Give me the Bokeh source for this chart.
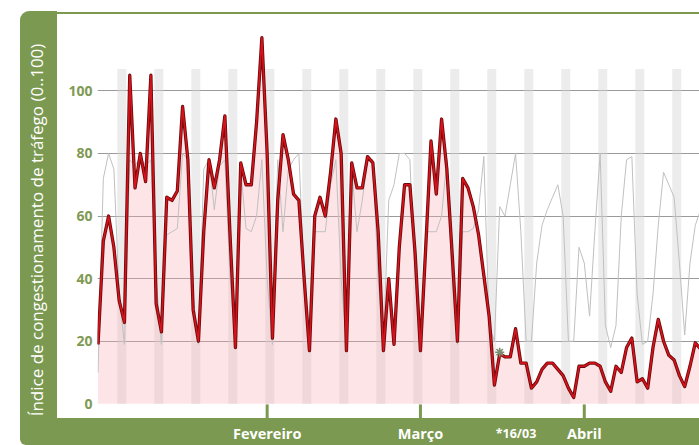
from bokeh.plotting import figure
from bokeh.layouts import row, column
from bokeh.models import FixedTicker, Range1d, ColumnDataSource, Spacer
from bokeh.core.properties import value
from bokeh.embed import file_html
from bokeh.resources import INLINE

# ---- data (day index: days since 2020-01-01, -1 = 2019-12-31) ----
day = list(range(-1, 114))

congestion_2020 = [
    19, 52, 60, 50, 33, 26, 105, 69, 80, 71, 105, 32, 23, 66, 65, 68, 95, 78, 30, 20,
    55, 78, 69, 78, 92, 53, 18, 77, 70, 70, 90, 117, 80, 21, 65, 86, 78, 67, 65, 40,
    17, 60, 66, 60, 74, 91, 80, 17, 77, 69, 69, 79, 77, 55, 17, 40, 19, 50, 70, 70,
    48, 17, 50, 84, 67, 91, 75, 48, 20, 72, 69, 63, 54, 41, 28, 6, 16, 15, 15, 24,
    13, 13, 5, 7, 11, 13, 13, 11, 9, 5, 2, 12, 12, 13, 13, 12, 7, 4, 12, 10,
    18, 21, 7, 8, 5, 18, 27, 20, 15.5, 14, 9, 5.5, 12, 19.5, 17.5,
]

typical_reference = [
    10, 72, 80, 75, 35, 19, 78, 76, 79, 76, 78, 40, 19, 54, 55, 56, 80, 78, 35, 19,
    75, 78, 62, 76, 78, 40, 19, 75, 56, 55, 60, 78, 40, 19, 78, 55, 75, 78, 80, 40,
    19, 55, 55, 55, 70, 78, 40, 19, 75, 55, 65, 78, 78, 40, 19, 65, 70, 80, 80, 78,
    40, 19, 55, 55, 55, 60, 78, 40, 19, 55, 55, 56, 62, 79, 25, 20, 63, 60, 70, 80,
    55, 20, 20, 45, 57, 62, 66, 70, 60, 20, 20, 50, 45, 28, 55, 80, 25, 18, 25, 60,
    78, 79, 35, 19, 20, 35, 57, 74, 70, 66, 45, 22, 45, 57, 62,
]

weekend_saturdays = [3, 10, 17, 24, 31, 38, 45, 52, 59, 66, 73, 80, 87, 94, 101, 108]

month_ticks = [31, 60, 91]
month_labels = ["Fevereiro", "Março", "Abril"]
y_ticks = [0, 20, 40, 60, 80, 100]

marker_day = 75
marker_value = 16.5
marker_label = "*16/03"
y_title = "Índice de congestionamento de tráfego (0..100)"

# ---- styling / layout constants (value units below zero = tick & label band) ----
GREEN = "#7b9950"
TICK_GREEN = "#809a55"
TICK_TOP, TICK_BOTTOM = -0.2, -4.7
LABEL_Y = -9.4

src = ColumnDataSource(dict(day=day, red=congestion_2020, gray=typical_reference))

frame_css = {
    "background-color": GREEN,
    "background-image": "linear-gradient(white, white), linear-gradient(white, white)",
    "background-position": "37px 3px, 37px 0px",
    "background-size": "642px 404px, 642px 1px",
    "background-repeat": "no-repeat",
    "border-top-left-radius": "9px",
    "border-bottom-left-radius": "6px",
}

p = figure(width=679, height=434, output_backend="svg", toolbar_location=None,
           x_range=Range1d(-1.1, 112.8), y_range=Range1d(-13.32, 124.4),
           x_axis_location=None,
           min_border_left=77, min_border_right=0, min_border_top=3, min_border_bottom=0,
           background_fill_alpha=0, border_fill_alpha=0,
           outline_line_color=None, styles=frame_css)

# weekend stripes
p.vbar(x=[s + 0.5 for s in weekend_saturdays], width=1.7, top=107, bottom=0,
       fill_color="#d5d5d5", fill_alpha=0.45, line_color=None)

# pink area under the 2020 series
p.varea(x="day", y1=0, y2="red", source=src, fill_color="#f7aab4", fill_alpha=0.32)

# typical reference line
p.line("day", "gray", source=src, line_color="#c0c0c0", line_width=1)

# 2020 series
p.line("day", "red", source=src, line_color="#6a0a0a", line_width=3.3, line_join="round")
p.line("day", "red", source=src, line_color="#d7121c", line_width=1.6, line_join="round")

p.scatter(x=[marker_day], y=[marker_value], marker="asterisk", size=9,
          line_color="#7a8c72", line_width=1.6)

# month tick marks and labels in the bottom band
p.segment(x0=month_ticks, x1=month_ticks, y0=TICK_TOP, y1=TICK_BOTTOM,
          line_color=GREEN, line_width=3)
p.text(x=month_ticks, y=LABEL_Y, text=month_labels, text_align="center",
       text_baseline="middle", text_color="white", text_font=value("Open Sans"),
       text_font_style="bold", text_font_size="14.5px")
p.text(x=[marker_day], y=LABEL_Y, text=[marker_label], text_align="left",
       text_baseline="middle", x_offset=-4, text_color="white",
       text_font=value("Open Sans"), text_font_style="bold", text_font_size="12.5px")

# y axis
p.yaxis.ticker = FixedTicker(ticks=y_ticks)
p.yaxis.axis_line_color = None
p.yaxis.major_tick_in = 0
p.yaxis.major_tick_out = 0
p.yaxis.minor_tick_line_color = None
p.yaxis.major_label_standoff = 5
p.yaxis.major_label_text_color = TICK_GREEN
p.yaxis.major_label_text_font = "Open Sans"
p.yaxis.major_label_text_font_style = "bold"
p.yaxis.major_label_text_font_size = "14px"
p.yaxis.axis_label = y_title
p.yaxis.axis_label_standoff = 17
p.yaxis.axis_label_text_color = "white"
p.yaxis.axis_label_text_font = "Open Sans"
p.yaxis.axis_label_text_font_style = "normal"
p.yaxis.axis_label_text_font_size = "17px"

p.ygrid.ticker = FixedTicker(ticks=y_ticks[1:])
p.ygrid.grid_line_color = "#9a9a9a"
p.xgrid.visible = False

layout = row(Spacer(width=20), column(Spacer(height=11), p))

open("out.html", "w").write(file_html(layout, INLINE))
